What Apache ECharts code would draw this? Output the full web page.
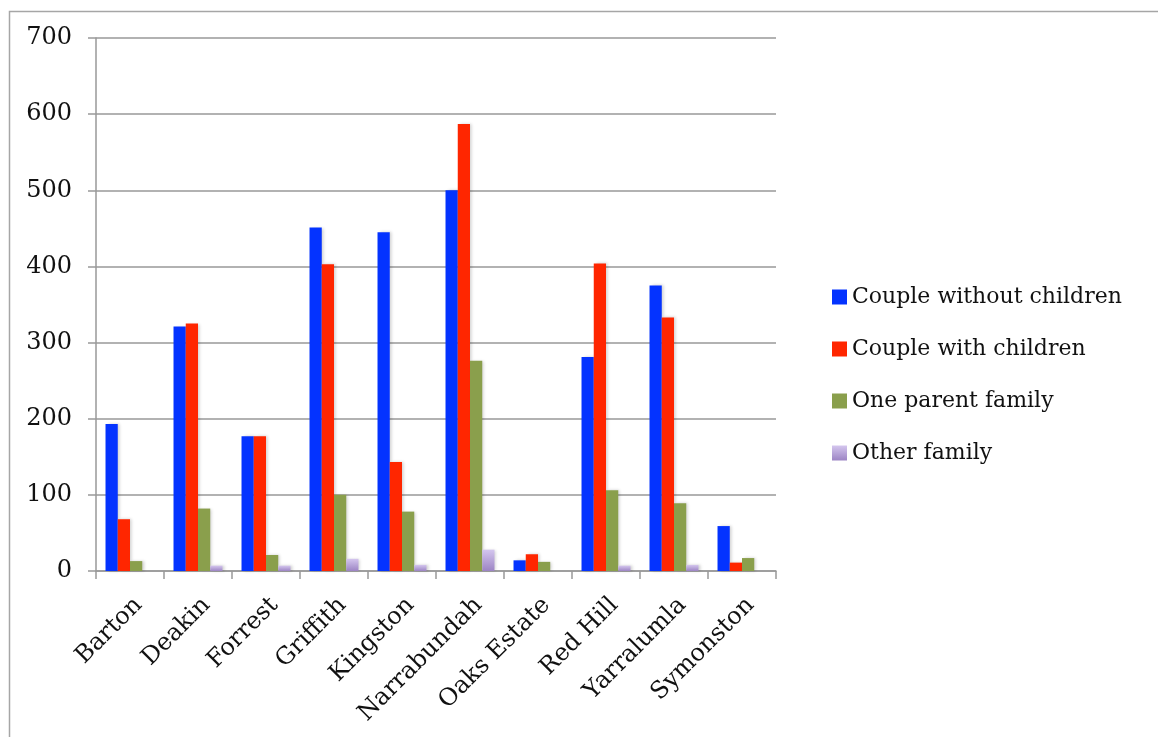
<!DOCTYPE html>
<html>
<head>
<meta charset="utf-8">
<script src="https://cdn.jsdelivr.net/npm/echarts@6/dist/echarts.min.js"></script>
<style>html,body{margin:0;padding:0;background:#fff;}#c{width:1158px;height:737px;}</style>
</head>
<body>
<div id="c"></div>
<script>
const categories = ['Barton','Deakin','Forrest','Griffith','Kingston','Narrabundah','Oaks Estate','Red Hill','Yarralumla','Symonston'];
const seriesNames = ['Couple without children','Couple with children','One parent family','Other family'];
const coupleWithout = [193, 321, 177, 451, 445, 500, 14, 281, 375, 59];
const coupleWith    = [68, 325, 177, 403, 143, 587, 22, 404, 333, 11];
const oneParent     = [13, 82, 21, 100, 78, 276, 12, 106, 89, 17];
const otherFamily   = [0, 7, 7, 16, 8, 28, 0, 7, 8, 0];
const yTicks = {min: 0, max: 700, interval: 100};

const SERIF = "'DejaVu Serif', serif";
const chart = echarts.init(document.getElementById('c'));
const purple = new echarts.graphic.LinearGradient(0,0,0,1,[{offset:0,color:'#d4c6ee'},{offset:1,color:'#9c84c4'}]);
const colors = ['#0433ff','#ff2600','#8a9f4c', purple];
const datas = [coupleWithout, coupleWith, oneParent, otherFamily];
chart.setOption({
  animation: false,
  backgroundColor: '#fff',
  graphic: [{
    type: 'rect', left: 7, top: 9, shape: {x: 0, y: 0, width: 1300, height: 900},
    style: {fill: 'none', stroke: '#a6a6a6', lineWidth: 1.5}, silent: true, z: -1
  }],
  grid: {left: 96, right: 382, top: 38, bottom: 166, containLabel: false},
  legend: {
    orient: 'vertical', left: 827, top: 281, itemWidth: 15, itemHeight: 15, itemGap: 30,
    icon: 'rect',
    textStyle: {fontFamily: SERIF, fontSize: 22, color: '#111'},
    data: seriesNames
  },
  xAxis: {
    type: 'category', data: categories,
    axisLine: {lineStyle: {color: '#999', width: 1.5}},
    axisTick: {show: true, length: 8, alignWithLabel: false, lineStyle: {color: '#999', width: 1.5}},
    axisLabel: {rotate: 45, interval: 0, margin: 22, verticalAlign: 'top', fontFamily: SERIF, fontSize: 24, color: '#111'}
  },
  yAxis: {
    type: 'value', min: yTicks.min, max: yTicks.max, interval: yTicks.interval,
    axisLine: {show: true, lineStyle: {color: '#999', width: 1.5}},
    axisTick: {show: true, length: 8, inside: false, lineStyle: {color: '#999', width: 1.5}},
    axisLabel: {margin: 24, fontFamily: SERIF, fontSize: 24, color: '#111'},
    splitLine: {lineStyle: {color: '#999', width: 1.5}}
  },
  series: seriesNames.map((n, i) => ({
    name: n, type: 'bar', data: datas[i],
    barGap: '0%', barCategoryGap: '28%',
    itemStyle: {color: colors[i], shadowColor: 'rgba(0,0,0,0.18)', shadowBlur: 3, shadowOffsetX: 2, shadowOffsetY: 0}
  }))
});
</script>
</body>
</html>
